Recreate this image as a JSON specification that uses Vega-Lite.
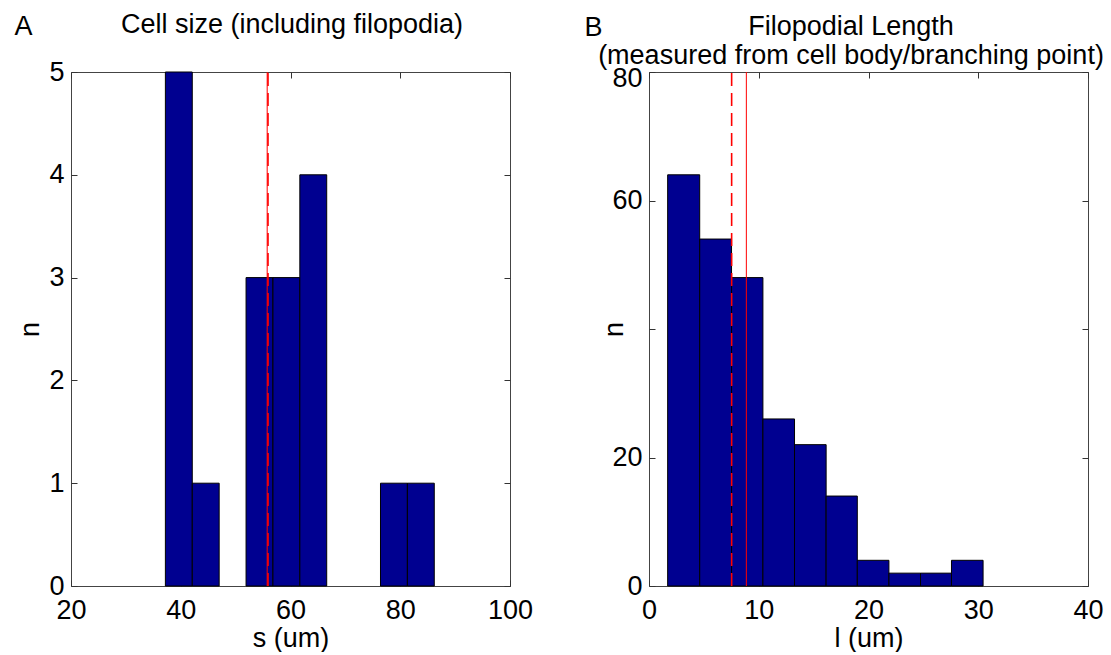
{
  "$schema": "https://vega.github.io/schema/vega-lite/v6.json",
  "background": "white",
  "padding": {"left": 13, "top": 10, "right": 0, "bottom": 0},
  "config": {
    "font": "Liberation Sans",
    "view": {"stroke": "#444", "strokeWidth": 1},
    "axis": {
      "domain": false, "grid": false, "tickSize": -6, "tickColor": "#333", "tickWidth": 1,
      "labelFontSize": 27, "labelColor": "#000", "labelFlush": false, "labelOverlap": false, "labelPadding": 17,
      "titleFontSize": 27, "titleFontWeight": "normal", "titleColor": "#000"
    },
    "title": {"fontSize": 27, "fontWeight": "normal", "color": "#000"}
  },
  "datasets": {
    "cellsize": [
      {"x0": 37.2, "x1": 42.1, "n": 5},
      {"x0": 42.1, "x1": 47.0, "n": 1},
      {"x0": 51.9, "x1": 56.8, "n": 3},
      {"x0": 56.8, "x1": 61.7, "n": 3},
      {"x0": 61.7, "x1": 66.6, "n": 4},
      {"x0": 76.4, "x1": 81.3, "n": 1},
      {"x0": 81.3, "x1": 86.2, "n": 1}
    ],
    "filo": [
      {"x0": 1.70, "x1": 4.62, "n": 64},
      {"x0": 4.62, "x1": 7.52, "n": 54},
      {"x0": 7.52, "x1": 10.38, "n": 48},
      {"x0": 10.38, "x1": 13.26, "n": 26},
      {"x0": 13.26, "x1": 16.14, "n": 22},
      {"x0": 16.14, "x1": 18.98, "n": 14},
      {"x0": 18.98, "x1": 21.86, "n": 4},
      {"x0": 21.86, "x1": 24.74, "n": 2},
      {"x0": 24.74, "x1": 27.56, "n": 2},
      {"x0": 27.56, "x1": 30.44, "n": 4}
    ],
    "linesA": [
      {"v": 55.75, "kind": "mean"},
      {"v": 55.9, "kind": "median"}
    ],
    "linesB": [
      {"v": 8.87, "kind": "mean"},
      {"v": 7.53, "kind": "median"}
    ]
  },
  "spacing": 139,
  "bounds": "flush",
  "hconcat": [
    {
      "width": 439,
      "height": 514,
      "title": {"text": "Cell size (including filopodia)", "frame": "group", "anchor": "middle", "baseline": "bottom", "offset": -54, "dx": 1.5},
      "layer": [
        {
          "data": {"name": "cellsize"},
          "mark": {"type": "rect", "fill": "#000090", "stroke": "#000", "strokeWidth": 1},
          "encoding": {
            "x": {"field": "x0", "type": "quantitative", "scale": {"domain": [20, 100], "nice": false, "zero": false},
                  "axis": {"orient": "bottom", "values": [20, 40, 60, 80, 100], "title": "s (um)", "titleY": 60, "titleBaseline": "alphabetic"}},
            "x2": {"field": "x1"},
            "y": {"field": "n", "type": "quantitative", "scale": {"domain": [0, 5], "nice": false},
                  "axis": {"orient": "left", "values": [0, 1, 2, 3, 4, 5], "title": "n", "labelPadding": 13, "titleX": -33, "titleBaseline": "alphabetic"}},
            "y2": {"datum": 0}
          }
        },
        {
          "data": {"name": "linesA"},
          "mark": {"type": "rule", "color": "#ff0000"},
          "encoding": {
            "x": {"field": "v", "type": "quantitative",
                  "axis": {"orient": "top", "values": [20, 40, 60, 80, 100], "labels": false, "title": "A", "titleX": -57, "titleY": -38, "titleAlign": "left", "titleBaseline": "alphabetic", "titleAngle": 0}},
            "y": {"datum": 0, "type": "quantitative",
                  "axis": {"orient": "right", "values": [0, 1, 2, 3, 4, 5], "labels": false, "title": null}},
            "y2": {"datum": 5},
            "strokeDash": {"field": "kind", "type": "nominal", "scale": {"domain": ["mean", "median"], "range": [[1, 0], [13, 7]]}, "legend": null},
            "strokeWidth": {"field": "kind", "type": "nominal", "scale": {"domain": ["mean", "median"], "range": [1, 1.6]}, "legend": null}
          }
        }
      ],
      "resolve": {"axis": {"x": "independent", "y": "independent"}}
    },
    {
      "width": 439,
      "height": 514,
      "title": {"text": ["Filopodial Length", "(measured from cell body/branching point)"], "lineHeight": 29, "frame": "group", "anchor": "middle", "baseline": "bottom", "offset": -84, "dx": -17.5},
      "layer": [
        {
          "data": {"name": "filo"},
          "mark": {"type": "rect", "fill": "#000090", "stroke": "#000", "strokeWidth": 1},
          "encoding": {
            "x": {"field": "x0", "type": "quantitative", "scale": {"domain": [0, 40], "nice": false, "zero": false},
                  "axis": {"orient": "bottom", "values": [0, 10, 20, 30, 40], "title": "l (um)", "titleY": 60, "titleBaseline": "alphabetic"}},
            "x2": {"field": "x1"},
            "y": {"field": "n", "type": "quantitative", "scale": {"domain": [0, 80], "nice": false},
                  "axis": {"orient": "left", "values": [0, 20, 40, 60, 80], "labelExpr": "datum.value == 40 ? '' : datum.label",
                           "labelOffset": {"condition": {"test": "datum.value == 80", "value": 6}, "value": 0},
                           "title": "n", "labelPadding": 13, "titleX": -27, "titleBaseline": "alphabetic"}},
            "y2": {"datum": 0}
          }
        },
        {
          "data": {"name": "linesB"},
          "mark": {"type": "rule", "color": "#ff0000"},
          "encoding": {
            "x": {"field": "v", "type": "quantitative",
                  "axis": {"orient": "top", "values": [0, 10, 20, 30, 40], "labels": false, "title": "B", "titleX": -65, "titleY": -37, "titleAlign": "left", "titleBaseline": "alphabetic", "titleAngle": 0}},
            "y": {"datum": 0, "type": "quantitative",
                  "axis": {"orient": "right", "values": [0, 20, 40, 60, 80], "labels": false, "title": null}},
            "y2": {"datum": 80},
            "strokeDash": {"field": "kind", "type": "nominal", "scale": {"domain": ["mean", "median"], "range": [[1, 0], [13, 7]]}, "legend": null},
            "strokeWidth": {"field": "kind", "type": "nominal", "scale": {"domain": ["mean", "median"], "range": [1, 1.6]}, "legend": null}
          }
        }
      ],
      "resolve": {"axis": {"x": "independent", "y": "independent"}}
    }
  ]
}
